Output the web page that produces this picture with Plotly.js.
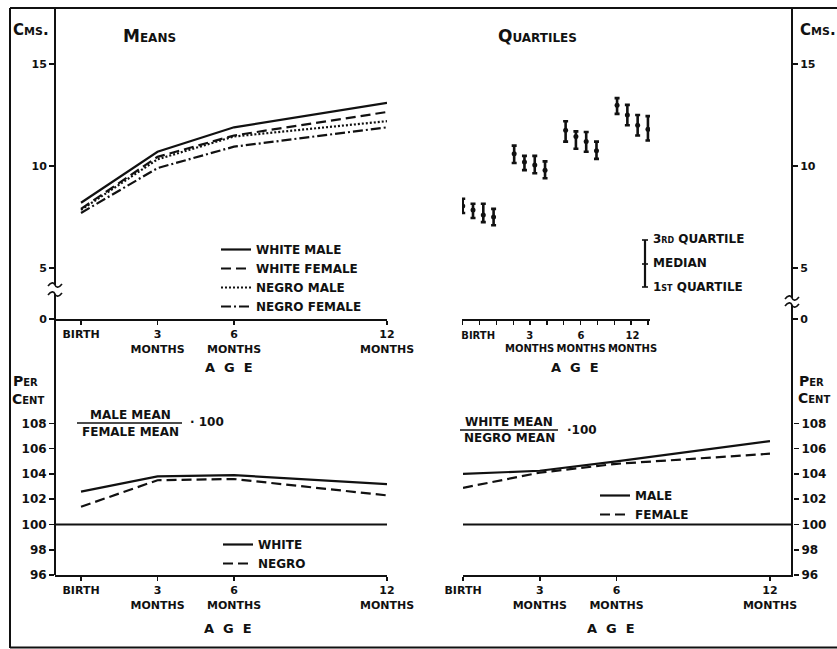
<!DOCTYPE html>
<html><head><meta charset="utf-8">
<script src="https://cdn.plot.ly/plotly-3.0.1.min.js"></script>
<style>html,body{margin:0;padding:0;background:#fff}#chart{width:837px;height:649px}</style>
</head><body><div id="chart"></div>
<script>
// ---------- data ----------
const ageMonths = [0, 3, 6, 12];
const ageTickLabels = ['BIRTH', '3<br>MONTHS', '6<br>MONTHS', '12<br>MONTHS'];
const quartileTickLabels = ['BIRTH', '3<br>MONTHS', '6<br>MONTHS', '12<br>MONTHS'];
const cmsTickValues = [5, 10, 15];
const cmsTickLabels = ['0', '5', '10', '15'];
const percentTickValues = [96, 98, 100, 102, 104, 106, 108];

const meanSeriesNames = ['WHITE MALE', 'WHITE FEMALE', 'NEGRO MALE', 'NEGRO FEMALE'];
const meanWhiteMale = [8.2, 10.7, 11.9, 13.1];
const meanWhiteFemale = [7.9, 10.45, 11.5, 12.65];
const meanNegroMale = [7.85, 10.33, 11.45, 12.2];
const meanNegroFemale = [7.7, 9.9, 10.95, 11.9];

const q1WhiteMale = [7.70, 10.15, 11.20, 12.56];
const medianWhiteMale = [8.04, 10.60, 11.75, 12.98];
const q3WhiteMale = [8.40, 11.00, 12.20, 13.33];
const q1WhiteFemale = [7.45, 9.80, 10.85, 12.00];
const medianWhiteFemale = [7.84, 10.20, 11.45, 12.50];
const q3WhiteFemale = [8.15, 10.50, 11.70, 13.00];
const q1NegroMale = [7.25, 9.65, 10.70, 11.50];
const medianNegroMale = [7.60, 10.05, 11.20, 12.00];
const q3NegroMale = [8.15, 10.50, 11.67, 12.50];
const q1NegroFemale = [7.10, 9.40, 10.35, 11.25];
const medianNegroFemale = [7.50, 9.80, 10.75, 11.80];
const q3NegroFemale = [7.90, 10.23, 11.20, 12.45];

const sexRatioNames = ['WHITE', 'NEGRO'];
const sexRatioWhite = [102.6, 103.8, 103.9, 103.2];
const sexRatioNegro = [101.4, 103.5, 103.6, 102.3];

const raceRatioNames = ['MALE', 'FEMALE'];
const raceRatioMale = [104.0, 104.25, 105.0, 106.6];
const raceRatioFemale = [102.9, 104.1, 104.8, 105.6];

// ---------- helpers ----------
const W = 837, H = 649;
const fx = p => p / W;
const fy = p => 1 - p / H;
const INK = '#111';
const FONT = 'DejaVu Sans';
const BREAK_BASE = 2.5;   // position of the "0" below the axis break

function pline(x0, y0, x1, y1, w) {
  return {type: 'line', xref: 'paper', yref: 'paper', x0: fx(x0), y0: fy(y0), x1: fx(x1), y1: fy(y1),
          line: {color: INK, width: w || 2}};
}
function tilde(cx, cy) {
  const p = (x, y) => fx(x).toFixed(5) + ',' + fy(y).toFixed(5);
  return {type: 'path', xref: 'paper', yref: 'paper',
          path: `M${p(cx - 7, cy + 1)} C${p(cx - 4, cy - 3)} ${p(cx - 1, cy - 3)} ${p(cx, cy)} S${p(cx + 4, cy + 3)} ${p(cx + 7, cy - 1)}`,
          line: {color: INK, width: 1.6}};
}
function label(text, x, y, size, extra) {
  return Object.assign({text, xref: 'paper', yref: 'paper', x: fx(x), y: fy(y), xanchor: 'left', yanchor: 'middle',
    showarrow: false, font: {family: FONT, size: size || 12, color: INK, weight: 'bold'}}, extra || {});
}
function scLabel(text, x, y, size, extra) {
  const a = label(text, x, y, size, extra);
  a.font.variant = 'small-caps';
  return a;
}

const tickFont = {family: FONT, size: 11, color: INK, weight: 'bold'};
const axBase = {showgrid: false, zeroline: false, showline: false, ticks: 'outside', ticklen: 5, tickwidth: 1.6,
                tickcolor: INK, linecolor: INK, linewidth: 2, fixedrange: true, tickfont: tickFont};

// ---------- traces ----------
const traces = [];
const meanSets = [meanWhiteMale, meanWhiteFemale, meanNegroMale, meanNegroFemale];
const meanDash = ['solid', '10px,5px', '2px,2px', '10px,3px,2px,3px'];
meanSets.forEach((vals, k) => {
  traces.push({type: 'scatter', mode: 'lines', x: ageMonths, y: vals, name: meanSeriesNames[k],
    xaxis: 'x', yaxis: 'y', legend: 'legend', line: {color: INK, width: 2.2, dash: meanDash[k]}, hoverinfo: 'skip'});
});

const quartileSets = [
  [q1WhiteMale, medianWhiteMale, q3WhiteMale],
  [q1WhiteFemale, medianWhiteFemale, q3WhiteFemale],
  [q1NegroMale, medianNegroMale, q3NegroMale],
  [q1NegroFemale, medianNegroFemale, q3NegroFemale]
];
quartileSets.forEach(([q1, med, q3], k) => {
  traces.push({type: 'scatter', mode: 'markers', xaxis: 'x2', yaxis: 'y2', showlegend: false,
    x: ageMonths.map((_, g) => g * 5 + k), y: med,
    marker: {symbol: 'circle', size: 5, color: INK},
    error_y: {type: 'data', symmetric: false, array: q3.map((v, i) => v - med[i]),
              arrayminus: med.map((v, i) => v - q1[i]), color: INK, thickness: 2.6, width: 2.5},
    hoverinfo: 'skip'});
});

[sexRatioWhite, sexRatioNegro].forEach((vals, k) => {
  traces.push({type: 'scatter', mode: 'lines', x: ageMonths, y: vals, name: sexRatioNames[k],
    xaxis: 'x3', yaxis: 'y3', legend: 'legend2', line: {color: INK, width: 2.2, dash: k ? '10px,5px' : 'solid'}, hoverinfo: 'skip'});
});
[raceRatioMale, raceRatioFemale].forEach((vals, k) => {
  traces.push({type: 'scatter', mode: 'lines', x: ageMonths, y: vals, name: raceRatioNames[k],
    xaxis: 'x4', yaxis: 'y4', legend: 'legend3', line: {color: INK, width: 2.2, dash: k ? '10px,5px' : 'solid'}, hoverinfo: 'skip'});
});

// ---------- layout ----------
const legendBase = {xanchor: 'left', yanchor: 'top', bgcolor: 'rgba(0,0,0,0)', borderwidth: 0,
  font: {family: FONT, size: 12, color: INK, weight: 'bold'}, tracegroupgap: 0, itemclick: false, itemdoubleclick: false};

const layout = {
  width: W, height: H, margin: {l: 0, r: 0, t: 0, b: 0}, paper_bgcolor: '#fff', plot_bgcolor: 'rgba(0,0,0,0)',
  font: {family: FONT, color: INK},
  showlegend: true,
  legend: Object.assign({}, legendBase, {x: fx(216), y: fy(235)}),
  legend2: Object.assign({}, legendBase, {x: fx(218), y: fy(530)}),
  legend3: Object.assign({}, legendBase, {x: fx(595), y: fy(481)}),
  xaxis: Object.assign({}, axBase, {domain: [fx(55), fx(387)], range: [-1.02, 12], anchor: 'y', showline: true,
    tickvals: ageMonths, ticktext: ageTickLabels, ticklen: 4}),
  yaxis: Object.assign({}, axBase, {domain: [fy(319), fy(8)], range: [BREAK_BASE, 17.75], anchor: 'x',
    tickvals: [BREAK_BASE].concat(cmsTickValues), ticktext: cmsTickLabels}),
  xaxis2: Object.assign({}, axBase, {domain: [fx(462), fx(650)], range: [-0.07, 18.2], anchor: 'y2', showline: true,
    tickvals: ageMonths.map((_, g) => g * 5 + 1.5), ticktext: quartileTickLabels, ticks: 'outside', ticklen: 6,
    tickcolor: 'rgba(0,0,0,0)',
    tickfont: Object.assign({}, tickFont, {size: 10}),
    minor: {tick0: 0, dtick: 18 / 11, ticks: 'outside', ticklen: 4, tickwidth: 1.4, tickcolor: INK, showgrid: false}}),
  yaxis2: Object.assign({}, axBase, {domain: [fy(319), fy(8)], range: [BREAK_BASE, 17.75], anchor: 'free',
    position: fx(792), side: 'right', tickvals: [BREAK_BASE].concat(cmsTickValues), ticktext: cmsTickLabels}),
  xaxis3: Object.assign({}, axBase, {domain: [fx(55), fx(387)], range: [-1.02, 12], anchor: 'y3', showline: true,
    tickvals: ageMonths, ticktext: ageTickLabels, ticklen: 4}),
  yaxis3: Object.assign({}, axBase, {domain: [fy(575), fy(340)], range: [96, 114.6], anchor: 'x3',
    tickvals: percentTickValues, tickfont: Object.assign({}, tickFont, {size: 12})}),
  xaxis4: Object.assign({}, axBase, {domain: [fx(463), fx(793)], range: [0, 12.9], anchor: 'y4', showline: true,
    tickvals: ageMonths, ticktext: ageTickLabels, ticklen: 4}),
  yaxis4: Object.assign({}, axBase, {domain: [fy(575), fy(340)], range: [96, 114.6], anchor: 'free',
    position: fx(793), side: 'right', tickvals: percentTickValues, tickfont: Object.assign({}, tickFont, {size: 12})}),
  shapes: [
    // outer frame
    pline(10, 8, 837, 8, 2), pline(10, 8, 10, 648, 2), pline(10, 647.5, 837, 647.5, 2),
    // left and right vertical axis lines with breaks
    pline(55, 8, 55, 285, 2), pline(55, 294, 55, 575, 2),
    pline(792, 8, 792, 298, 2), pline(792, 305, 792, 575, 2),
    tilde(55, 285), tilde(55, 294), tilde(792, 298), tilde(792, 305),
    // 100 % reference lines
    {type: 'line', xref: 'x3 domain', yref: 'y3', x0: 0, x1: 1, y0: 100, y1: 100, line: {color: INK, width: 2}},
    {type: 'line', xref: 'x4 domain', yref: 'y4', x0: 0, x1: 1, y0: 100, y1: 100, line: {color: INK, width: 2}},
    // fraction bars
    pline(77, 423, 182, 423, 1.6), pline(460, 430, 558, 430, 1.6),
    // quartile key
    pline(645, 240, 645, 287, 2.2), pline(642, 240, 648, 240, 1.6), pline(642, 287, 648, 287, 1.6),
    pline(642, 264, 648, 264, 1.6)
  ],
  annotations: [
    scLabel('Cms.', 11, 30, 15),
    scLabel('Means', 121, 36, 17),
    scLabel('Quartiles', 496, 36, 17),
    scLabel('Cms.', 798, 30, 15),
    label('A\u00a0\u00a0G\u00a0\u00a0E', 229, 367, 13, {xanchor: 'center'}),
    label('A\u00a0\u00a0G\u00a0\u00a0E', 575, 367, 13, {xanchor: 'center'}),
    label('A\u00a0\u00a0G\u00a0\u00a0E', 228, 628, 13, {xanchor: 'center'}),
    label('A\u00a0\u00a0G\u00a0\u00a0E', 611, 628, 13, {xanchor: 'center'}),
    scLabel('Per', 11, 381, 14), scLabel('Cent', 10, 399, 14),
    scLabel('Per', 797, 381, 14), scLabel('Cent', 796, 398, 14),
    label('MALE MEAN', 130, 415, 12, {xanchor: 'center'}),
    label('FEMALE MEAN', 130, 432, 12, {xanchor: 'center'}),
    label('\u00b7 100', 188, 422, 12),
    label('WHITE MEAN', 509, 422, 12, {xanchor: 'center'}),
    label('NEGRO MEAN', 509, 438, 12, {xanchor: 'center'}),
    label('\u00b7100', 565, 430, 12),
    label('3<span style="font-size:8px">RD</span> QUARTILE', 651, 239, 12),
    label('MEDIAN', 651, 263, 12),
    label('1<span style="font-size:8px">ST</span> QUARTILE', 651, 287, 12)
  ]
};

Plotly.newPlot('chart', traces, layout, {displayModeBar: false, staticPlot: true});
</script>
</body></html>
